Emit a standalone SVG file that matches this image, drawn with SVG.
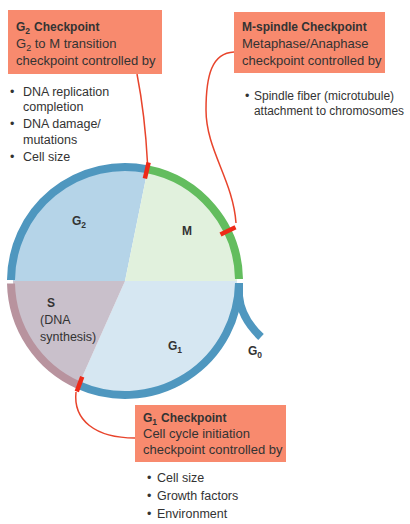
<svg xmlns="http://www.w3.org/2000/svg" width="410" height="524" viewBox="0 0 410 524">
<style>
text{font-family:"Liberation Sans",Arial,sans-serif;fill:#333;}
.t{font-size:12px;font-weight:bold;}
.b{font-size:13px;}
.l{font-size:12.5px;}
.s{font-size:12px;}
.ph{font-size:12px;font-weight:bold;}
.box{fill:#f88a6e;}
.ring{fill:none;stroke-width:8;}
.mark{stroke:#ee2a18;stroke-width:4.5;stroke-linecap:butt;}
.conn{fill:none;stroke:#e8442c;stroke-width:1.5;}
</style>
<rect width="410" height="524" fill="#ffffff"/>
<g id="cycle">
<path d="M125,281 L13,281 A112,112 0 0 1 147.4,171.1 Z" fill="#b5d4e8"/>
<path d="M125,281 L147.4,171.1 A112,112 0 0 1 237,281 Z" fill="#e1f1dd"/>
<path d="M125,281 L237,281 A112,112 0 0 1 79.4,383.3 Z" fill="#d6e7f2"/>
<path d="M125,281 L79.4,383.3 A112,112 0 0 1 13,281 Z" fill="#c9c0cb"/>
<path class="ring" d="M11.0,280 A114,114 0 0 1 146.75,169.1" stroke="#4f97bf"/>
<path class="ring" d="M146.75,169.1 A114,114 0 0 1 239,279" stroke="#63bd5e"/>
<path class="ring" d="M239,283 A114,114 0 0 1 78.6,385.1" stroke="#4f97bf"/>
<path class="ring" d="M78.6,385.1 A114,114 0 0 1 11.0,283.5" stroke="#b8939e"/>
<path class="ring" d="M239,283 L239,296 Q241,318 261,337" stroke="#4f97bf"/>
</g>
<g id="connectors">
<path class="conn" d="M137,74 Q145,115 147.5,163"/>
<path class="conn" d="M234,52 C212,53 206,75 206,110 C206,150 233,180 236,223"/>
<path class="conn" d="M76,392 C73,420 95,438 135,438"/>
</g>
<g id="marks">
<line class="mark" x1="144.9" y1="178.5" x2="148.6" y2="162.5"/>
<line class="mark" x1="220.5" y1="234.5" x2="235.5" y2="227.3"/>
<line class="mark" x1="76.8" y1="391.5" x2="82.2" y2="376.8"/>
</g>
<g id="phase-labels">
<text class="ph" x="72" y="225">G<tspan font-size="8.5" dy="3">2</tspan></text>
<text class="ph" x="182" y="235">M</text>
<text class="ph" x="47" y="307">S</text>
<text class="l" x="40" y="324">(DNA</text>
<text class="l" x="40" y="341">synthesis)</text>
<text class="ph" x="168" y="350">G<tspan font-size="8.5" dy="3">1</tspan></text>
<text class="ph" x="248" y="355">G<tspan font-size="8.5" dy="3">0</tspan></text>
</g>
<g id="g2-checkpoint">
<rect class="box" x="8" y="10" width="154" height="64"/>
<text class="t" x="16" y="31">G<tspan font-size="8.5" dy="3">2</tspan><tspan dy="-3" dx="4">Checkpoint</tspan></text>
<text class="b" x="16" y="48">G<tspan font-size="9" dy="3">2</tspan><tspan dy="-3"> to M transition</tspan></text>
<text class="b" x="16" y="65">checkpoint controlled by</text>
<text class="l" x="10" y="96">•</text><text class="l" x="23" y="96">DNA replication</text>
<text class="l" x="23" y="111">completion</text>
<text class="l" x="10" y="128">•</text><text class="l" x="23" y="128">DNA damage/</text>
<text class="l" x="23" y="144">mutations</text>
<text class="l" x="10" y="161">•</text><text class="l" x="23" y="161">Cell size</text>
</g>
<g id="m-checkpoint">
<rect class="box" x="234" y="12" width="151" height="61"/>
<text class="t" x="242" y="31">M-spindle Checkpoint</text>
<text class="b" x="242" y="48">Metaphase/Anaphase</text>
<text class="b" x="242" y="65">checkpoint controlled by</text>
<text class="l" x="245" y="100">•</text><text class="s" x="254" y="100">Spindle fiber (microtubule)</text>
<text class="s" x="254" y="115" textLength="150" lengthAdjust="spacingAndGlyphs">attachment to chromosomes</text>
</g>
<g id="g1-checkpoint">
<rect class="box" x="135" y="405" width="151" height="57"/>
<text class="t" x="143" y="422">G<tspan font-size="8.5" dy="3">1</tspan><tspan dy="-3" dx="4">Checkpoint</tspan></text>
<text class="b" x="143" y="438">Cell cycle initiation</text>
<text class="b" x="143" y="454">checkpoint controlled by</text>
<text class="l" x="147" y="482">•</text><text class="l" x="157" y="482">Cell size</text>
<text class="l" x="147" y="500">•</text><text class="l" x="157" y="500">Growth factors</text>
<text class="l" x="147" y="518">•</text><text class="l" x="157" y="518">Environment</text>
</g>
</svg>
